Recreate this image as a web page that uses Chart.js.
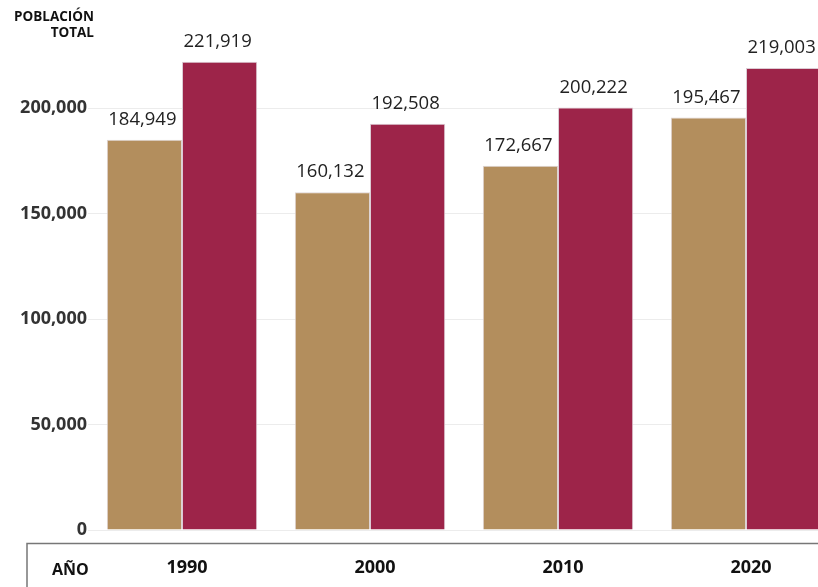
<!DOCTYPE html>
<html>
<head>
<meta charset="utf-8">
<script src="https://cdn.jsdelivr.net/npm/chart.js@4"></script>
<style>
  html, body { margin: 0; padding: 0; background: #fff; overflow: hidden; }
  #wrap { width: 842px; height: 587px; }
</style>
</head>
<body>
<div id="wrap"><canvas id="chart" width="842" height="587"></canvas></div>
<script>
// Datos
const years = ['1990', '2000', '2010', '2020'];
const seriesA = [184949, 160132, 172667, 195467];
const seriesB = [221919, 192508, 200222, 219003];
const yTicks = [0, 50000, 100000, 150000, 200000];

const fmt = v => v.toLocaleString('en-US');

// etiquetas encima de las barras
const valueLabels = {
    id: 'valueLabels',
    afterDatasetsDraw(chart) {
        const ctx = chart.ctx;
        ctx.save();
        ctx.font = '18.5px "Open Sans"';
        ctx.fillStyle = '#222';
        ctx.textAlign = 'center';
        ctx.textBaseline = 'alphabetic';
        chart.data.datasets.forEach((ds, i) => {
            chart.getDatasetMeta(i).data.forEach((bar, j) => {
                ctx.fillText(fmt(ds.data[j]), bar.x - 2, bar.y - 15);
            });
        });
        ctx.restore();
    }
};

// linea inferior, titulo del eje y texto "AÑO"
const frame = {
    id: 'frame',
    afterDraw(chart) {
        const ctx = chart.ctx;
        const y = chart.chartArea.bottom + 13.5;
        ctx.save();
        ctx.strokeStyle = '#777';
        ctx.lineWidth = 1.5;
        ctx.beginPath();
        ctx.moveTo(chart.width, y);
        ctx.lineTo(27, y);
        ctx.lineTo(27, chart.height);
        ctx.stroke();

        ctx.fillStyle = '#111';
        ctx.font = 'bold 13.5px "Open Sans"';
        ctx.textAlign = 'right';
        ctx.textBaseline = 'middle';
        ctx.fillText('POBLACIÓN', 94, 17);
        ctx.fillText('TOTAL', 94, 33);

        ctx.font = 'bold 16px "Open Sans"';
        ctx.textAlign = 'left';
        ctx.fillText('AÑO', 52, 570);
        ctx.restore();
    }
};

new Chart(document.getElementById('chart').getContext('2d'), {
    type: 'bar',
    data: {
        labels: years,
        datasets: [
            {
                label: 'A',
                data: seriesA,
                backgroundColor: '#B38E5D',
                borderColor: '#ddd4d4',
                borderWidth: 1
            },
            {
                label: 'B',
                data: seriesB,
                backgroundColor: '#9D2449',
                borderColor: '#dccbd4',
                borderWidth: 1
            }
        ]
    },
    options: {
        responsive: false,
        animation: false,
        layout: { padding: { top: 30, right: 2, left: 0, bottom: 0 } },
        categoryPercentage: 0.8,
        barPercentage: 1,
        plugins: {
            legend: { display: false },
            tooltip: { enabled: false }
        },
        scales: {
            x: {
                grid: { display: false, drawTicks: false },
                border: { display: false },
                ticks: {
                    color: '#111',
                    font: { family: 'Open Sans', size: 18, weight: 'bold' },
                    padding: 27,
                    labelOffset: 5
                },
                afterFit(scale) { scale.height = 57; }
            },
            y: {
                min: 0,
                max: 237000,
                afterBuildTicks(scale) {
                    scale.ticks = yTicks.map(v => ({ value: v }));
                },
                grid: { color: '#ececec', drawTicks: false },
                border: { display: false },
                ticks: {
                    color: '#333',
                    font: { family: 'Open Sans', size: 18, weight: 'bold' },
                    padding: 1,
                    callback: v => fmt(v)
                },
                afterFit(scale) { scale.width = 88; }
            }
        }
    },
    plugins: [valueLabels, frame]
});
</script>
</body>
</html>
